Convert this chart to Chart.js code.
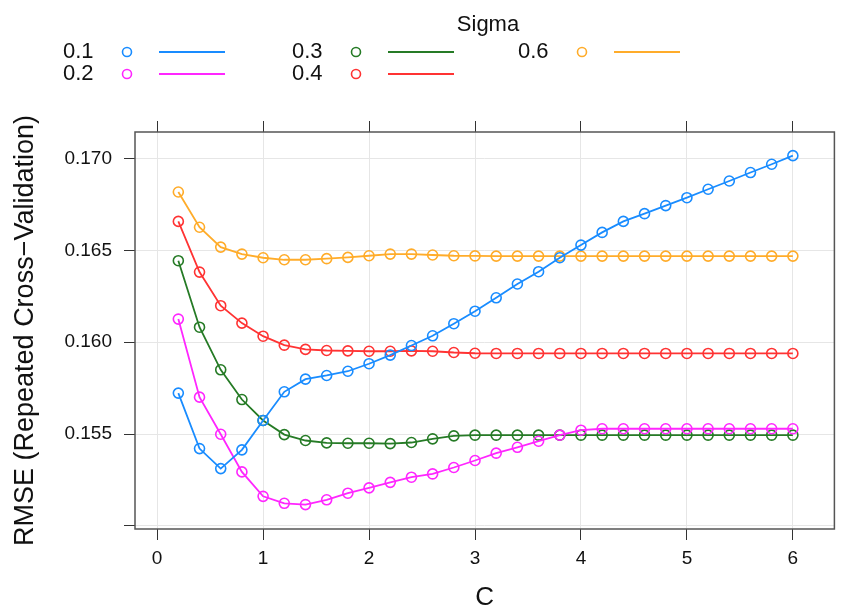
<!DOCTYPE html>
<html>
<head>
<meta charset="utf-8">
<script src="https://cdn.jsdelivr.net/npm/chart.js@4.4.1/dist/chart.umd.min.js"></script>
<style>
    html, body { margin: 0; padding: 0; background: #ffffff; }
    #contenedor { width: 841px; height: 608px; }
</style>
</head>
<body>
<div id="contenedor"><canvas id="grafico_rmse" width="841" height="608"></canvas></div>
<script>
// DATA
var valores_c = [0.2, 0.4, 0.6, 0.8, 1.0, 1.2, 1.4, 1.6, 1.8, 2.0,
                 2.2, 2.4, 2.6, 2.8, 3.0, 3.2, 3.4, 3.6, 3.8, 4.0,
                 4.2, 4.4, 4.6, 4.8, 5.0, 5.2, 5.4, 5.6, 5.8, 6.0];

var nombres_sigma = ['0.1', '0.2', '0.3', '0.4', '0.6'];

var rmse_sigma_01 = [0.15723, 0.15421, 0.15312, 0.15414, 0.15574, 0.15730, 0.15799, 0.15819, 0.15842, 0.15883,
                     0.15930, 0.15982, 0.16035, 0.16101, 0.16169, 0.16242, 0.16317, 0.16384, 0.16460, 0.16529,
                     0.16598, 0.16658, 0.16700, 0.16744, 0.16787, 0.16833, 0.16878, 0.16924, 0.16969, 0.17016];
var rmse_sigma_02 = [0.16126, 0.15701, 0.15499, 0.15294, 0.15161, 0.15123, 0.15116, 0.15142, 0.15178, 0.15207,
                     0.15237, 0.15265, 0.15283, 0.15318, 0.15356, 0.15396, 0.15428, 0.15461, 0.15494, 0.15521,
                     0.15529, 0.15529, 0.15529, 0.15529, 0.15529, 0.15529, 0.15529, 0.15529, 0.15529, 0.15529];
var rmse_sigma_03 = [0.16444, 0.16082, 0.15850, 0.15688, 0.15574, 0.15497, 0.15465, 0.15452, 0.15450, 0.15450,
                     0.15448, 0.15454, 0.15474, 0.15490, 0.15494, 0.15494, 0.15494, 0.15494, 0.15494, 0.15494,
                     0.15494, 0.15494, 0.15494, 0.15494, 0.15494, 0.15494, 0.15494, 0.15494, 0.15494, 0.15494];
var rmse_sigma_04 = [0.16658, 0.16382, 0.16199, 0.16104, 0.16033, 0.15984, 0.15961, 0.15955, 0.15953, 0.15951,
                     0.15951, 0.15953, 0.15951, 0.15944, 0.15940, 0.15939, 0.15939, 0.15939, 0.15939, 0.15939,
                     0.15939, 0.15939, 0.15939, 0.15939, 0.15939, 0.15939, 0.15939, 0.15939, 0.15939, 0.15939];
var rmse_sigma_06 = [0.16818, 0.16626, 0.16518, 0.16480, 0.16460, 0.16449, 0.16449, 0.16455, 0.16462, 0.16471,
                     0.16480, 0.16480, 0.16475, 0.16471, 0.16470, 0.16469, 0.16469, 0.16469, 0.16469, 0.16469,
                     0.16469, 0.16469, 0.16469, 0.16469, 0.16469, 0.16469, 0.16469, 0.16469, 0.16469, 0.16469];

var ticks_x = [0, 1, 2, 3, 4, 5, 6];
var etiquetas_x = ['0', '1', '2', '3', '4', '5', '6'];
var ticks_y = [0.150, 0.155, 0.160, 0.165, 0.170];
var etiquetas_y = ['', '0.155', '0.160', '0.165', '0.170'];

// STYLE
var colores_sigma = ['#198cff', '#ff26ff', '#267b26', '#ff3333', '#ffac2a'];
var fuente = '"Liberation Sans", Arial, sans-serif';
Chart.defaults.font.family = fuente;

function Armar_Puntos(serie) {
    return valores_c.map(function(c, i) {
        return { x: c, y: serie[i] };
    });
}

function Fijar_Ticks(lista) {
    return function(scale) {
        scale.ticks = lista.map(function(v) { return { value: v }; });
    };
}

// FRAME AND LEGEND
var plugin_marco = {
    id: 'marco',
    afterDraw: function(chart) {
        var ctx = chart.ctx;
        var area = chart.chartArea;
        ctx.save();
        ctx.strokeStyle = '#555555';
        ctx.lineWidth = 1.5;
        ctx.strokeRect(area.left, area.top, area.right - area.left, area.bottom - area.top);

        // legend title
        ctx.fillStyle = '#111111';
        ctx.font = '22px ' + fuente;
        ctx.textAlign = 'center';
        ctx.textBaseline = 'middle';
        ctx.fillText('Sigma', 488, 25);

        // legend items, two rows per column
        var col_x = [63, 292, 518];
        nombres_sigma.forEach(function(nombre, i) {
            var x0 = col_x[Math.floor(i / 2)];
            var y0 = 52 + (i % 2) * 22;
            ctx.fillStyle = '#111111';
            ctx.textAlign = 'left';
            ctx.fillText(nombre, x0, y0);
            ctx.strokeStyle = colores_sigma[i];
            ctx.lineWidth = 1.6;
            ctx.beginPath();
            ctx.arc(x0 + 64, y0, 4.5, 0, Math.PI * 2);
            ctx.stroke();
            ctx.lineWidth = 2;
            ctx.beginPath();
            ctx.moveTo(x0 + 96, y0);
            ctx.lineTo(x0 + 162, y0);
            ctx.stroke();
        });
        ctx.restore();
    }
};

// CHART
var series = [rmse_sigma_01, rmse_sigma_02, rmse_sigma_03, rmse_sigma_04, rmse_sigma_06];
var ctx = document.getElementById('grafico_rmse').getContext('2d');
new Chart(ctx, {
    type: 'line',
    data: {
        datasets: series.map(function(serie, i) {
            return {
                label: nombres_sigma[i],
                data: Armar_Puntos(serie),
                borderColor: colores_sigma[i],
                pointBorderColor: colores_sigma[i],
                pointBackgroundColor: 'rgba(0,0,0,0)',
                pointRadius: 5,
                pointBorderWidth: 1.6,
                borderWidth: 1.8,
                tension: 0,
                fill: false
            };
        })
    },
    options: {
        responsive: false,
        animation: false,
        layout: { padding: { left: 0, right: 2, top: 0, bottom: 0 } },
        plugins: {
            legend: { display: false },
            tooltip: { enabled: false }
        },
        scales: {
            x: {
                type: 'linear',
                position: 'bottom',
                min: -0.209,
                max: 6.392,
                afterBuildTicks: Fijar_Ticks(ticks_x),
                afterFit: function(scale) { scale.height = 79; },
                border: { display: false },
                grid: { color: '#e6e6e6', lineWidth: 1, tickColor: '#333333', tickLength: 11, tickWidth: 1 },
                ticks: {
                    autoSkip: false,
                    maxRotation: 0,
                    color: '#111111',
                    padding: 7,
                    font: { size: 19 },
                    callback: function(value, index) { return etiquetas_x[index]; }
                },
                title: {
                    display: true,
                    text: 'C',
                    color: '#111111',
                    font: { size: 26, lineHeight: 0.75 },
                    padding: 0
                }
            },
            x2: {
                type: 'linear',
                position: 'top',
                min: -0.209,
                max: 6.392,
                afterBuildTicks: Fijar_Ticks(ticks_x),
                afterFit: function(scale) { scale.height = 132; },
                border: { display: false },
                grid: { drawOnChartArea: false, tickColor: '#333333', tickLength: 11, tickWidth: 1 },
                ticks: { display: false }
            },
            y: {
                type: 'linear',
                position: 'left',
                min: 0.149831,
                max: 0.171447,
                afterBuildTicks: Fijar_Ticks(ticks_y),
                afterFit: function(scale) { scale.width = 135; },
                border: { display: false },
                grid: { color: '#e6e6e6', lineWidth: 1, tickColor: '#333333', tickLength: 11, tickWidth: 1 },
                ticks: {
                    color: '#111111',
                    padding: 12,
                    font: { size: 19 },
                    callback: function(value, index) { return etiquetas_y[index]; }
                },
                title: {
                    display: true,
                    text: 'RMSE (Repeated Cross\u2212Validation)',
                    color: '#111111',
                    font: { size: 27 },
                    padding: { top: 9, bottom: 0 }
                }
            }
        }
    },
    plugins: [plugin_marco]
});
</script>
</body>
</html>
